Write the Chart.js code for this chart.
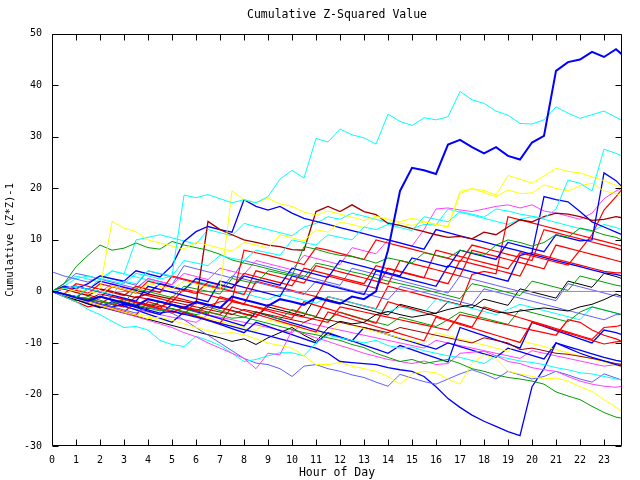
<!DOCTYPE html>
<html><head><meta charset="utf-8">
<script src="https://cdn.jsdelivr.net/npm/chart.js@4"></script>
<style>html,body{margin:0;padding:0;background:#fff}</style>
</head><body>
<canvas id="c" width="640" height="480"></canvas>
<script>
const hours = [0,0.5,1,1.5,2,2.5,3,3.5,4,4.5,5,5.5,6,6.5,7,7.5,8,8.5,9,9.5,10,10.5,11,11.5,12,12.5,13,13.5,14,14.5,15,15.5,16,16.5,17,17.5,18,18.5,19,19.5,20,20.5,21,21.5,22,22.5,23,23.5,23.75];
const xTickLabels = [0,1,2,3,4,5,6,7,8,9,10,11,12,13,14,15,16,17,18,19,20,21,22,23];
const yTickLabels = [-30,-20,-10,0,10,20,30,40,50];

const s01 = [0,-0.5,-1.2,-1.8,-1,-1.6,-2.2,-2.8, -1.5,-2,-2.6,-3.2,-2,-2.6,-3.2,-1, -1.6,-2.2,-2.8,-1.5,-2,-2.6,-1.2,-1.8, -2.4,-1,-1.5,0,8,19.5,24,23.5, 22.8,28.5,29.4,28,26.8,28,26.3,25.6, 28.9,30.2,42.8,44.5,45,46.5,45.5,47, 46];
const s02 = [0,0.5,1,0.4,2.5,2,1.5,3.5, 3,2.4,3,18.7,18.2,18.8,18,17.2, 17.8,17.2,18.4,21.8,23.5,22,29.7,29, 31.5,30.4,29.8,28.6,34.4,33,32.2,33.7, 33.3,33.9,38.8,37.2,36.5,35,34.2,32.6, 32.5,33.3,35.8,34.6,33.6,34.3,35,33.8, 33.2];
const s03 = [0,-0.5,-1,0.5,0,-0.6,2,1.5, 4,3.5,3,6,5.5,5,7,6.4, 6,8,7.5,7,10,9.5,9,11, 10.5,10,12.5,12,13,12.4,11.8,14.5, 14,13.5,15.5,15,14.4,16,15.6,15, 14.6,14.2,16,21.6,21,19.5,27.6,26.8, 26.3];
const s04 = [0,-0.5,0.5,0,-0.5,1,0.4,-0.2, 1.5,1,0.4,2,1.4,0.8,0.3,19.5, 17.8,17.2,18.1,17,16.5,15.4,14.8,15.6, 15,14.4,13.8,14.6,14,13.5,14.2,13.6, 13,12.6,19.4,19.9,19.6,18.7,22.5,21.8, 21,22.4,23.9,23.3,23,22.2,21.5,20.6, 20.3];
const s05 = [0,0.6,0,-0.5,0.5,13.6,12.3,11.6, 10,9.4,8.8,8.2,9.5,9,8.4,7.8, 9.5,9,8.4,11,10.4,9.8,12,11.5, 13.5,13,12.4,14.5,14,13.3,12.8,13.5, 13,12.5,19,20,19.2,18.4,19.7,19, 19.1,20.7,20,19.5,20.5,21,19.5,19, 18.5];
const s06 = [0,1.5,4.8,7,9,8,8.4,9.4, 8.5,8.2,9.7,9,8.5,8,7.2,6.1, 5.5,5,4.4,3.8,3.3,2.7,5.5,5, 4.4,3.8,3.3,2.6,2,1.5,1,0.4, -0.2,-0.8,-1.4,1.5,1,0.4,-0.2,-0.8, 2,1.4,0.8,0.2,3,2.4,1.8,1.2, 1];
const s07 = [0,-0.5,-1,-1.5,-1,-1.6,-2.2,0.5, 0,-0.6,-1.2,1,0.5,0,-0.5,2.5, 2,1.5,4,3.5,3,8.7,8.2,7.5, 7,6.8,6.2,5.5,6.5,6,5.5,7.5, 7,6.5,8,7.5,7,9,10,9.5, 8.8,9.5,11,10.5,12.3,11.8,11,10.5, 10];
const s08 = [0,-0.5,-1,-1.5,-2,-2.5,-2,-2.6, -3.2,-3.8,-3.3,-3.9,-4.5,-4,-4.6,-5.2, -5,-5.6,-6.2,-6.8,-7.4,-8,-8.4,-9, -9.5,-10.3,-10.9,-12,-12.8,-13.6,-13.2,-14, -13.6,-13.2,-14,-15,-15.5,-16.2,-16.7,-17, -17.4,-18,-19.5,-20.3,-21,-22.3,-23.5,-24.4, -24.6];
const s09 = [0,-0.7,-1.4,-2,-2.7,-3.3,-4,-4.6, -5.3,-5,-5.6,-6.3,-7,-7.6,-8.2,-8, -8.4,-9.2,-10,-10.5,-11,-12.5,-14.2,-14.2, -13.8,-14.5,-15,-15.5,-16.5,-18,-16,-15.5, -15.8,-17,-18,-14,-12.3,-13,-15.5,-16, -16.5,-17,-16.8,-17.4,-18.5,-19.4,-21,-22.5, -23.3];
const s10 = [0,-0.7,-1.4,-2.1,-2.8,-3.5,-4.2,-4.9, -5.6,-6.3,-7,-8,-8.8,-10,-11,-12, -13,-15,-12,-12.3,-7.5,-8.2,-9,-9.7, -10.5,-11.2,-12,-12.6,-13.2,-13.6,-14,-13.5, -14.2,-14,-12,-11.8,-11.6,-12.5,-13.6,-14, -14.8,-15.2,-15.5,-16.5,-17.4,-18,-18.4,-18.6, -18.4];
const s11 = [0,-1,-2,-3.5,-4.5,-5.8,-7,-6.8, -7.5,-9.5,-10.3,-10.7,-8.7,-9.5,-10.5,-12, -13.6,-13.2,-12.5,-11.9,-11.9,-12.5,-10,-8.5, -9,-9.5,-10,-9.5,-10.5,-11,-10.8,-11.5, -12,-12.5,-12.8,-13.4,-14,-12.5,-13,-13.5, -13.8,-14.2,-14.8,-15.2,-15.8,-16,-16.5,-17, -17.2];
const s12 = [0,-0.6,-1.2,-1.8,-2.4,-3,-3.6,-4.2, -3,-3.6,-4.2,-5.5,-7,-8.5,-10,-11.5, -13,-13.9,-14.2,-15,-16.5,-14.5,-14.2,-15, -15.5,-16.2,-16.7,-17.6,-18.4,-16.1,-16.8,-17.5, -18,-17,-16,-15.2,-16,-17,-15.5,-16.2, -17,-16.5,-15.5,-16.2,-17,-17.6,-16,-16.8, -17.2];
const s13 = [0,-0.6,-1.2,-1.8,-2.4,-3,-2.5,-3, -3.6,-4.2,-3.8,-4.4,-5,-5.6,-6.2,-6.8, -7.4,-8,-8.6,-9.2,-9.8,-10.4,-11,-12, -13.6,-13.8,-14,-14.2,-14.8,-15.2,-15.5,-16.5, -18.5,-20.8,-22.5,-24,-25.2,-26.2,-27.2,-28, -18.5,-15,-10,-11,-12,-12.8,-13.5,-14.2, -14.5];
const s14 = [0,0.5,1,0.4,2,1.4,0.8,0.2, -0.4,1.5,0.9,0.3,2.5,1.9,1.3,0.7, 3,2.4,1.8,1.2,4.5,3.9,3.3,2.7, 6,5.4,4.8,4.2,3.6,3,6.5,5.9, 5.3,4.7,8,7.4,6.8,6.2,9.5,8.9, 8.3,7.7,11,10.4,9.8,10,23,21.5, 20.3];
const s15 = [0,0.5,-0.2,-0.8,0.5,0,-0.6,-1.2, -0.5,-1,-1.5,-2,-2.4,13.6,12,11, 10,9.5,9,8.7,8.1,8,15.5,16.5, 15.5,16.8,15.5,14.9,13.2,12.8,12.2,11.6, 11,10.5,10.7,10.2,11.5,11,12.5,13.9, 13.5,14.5,15.2,15,14.5,13.8,14,14.5, 14.3];
const s16 = [0,-0.8,-1.6,-2.4,-3,-3.6,-4.2,-4.8, -5.4,-6,-6.6,-7.2,-7.8,-8.4,-9,-9.7, -9.2,-10.3,-9,-8,-7,-8.5,-9.7,-7.1, -5.8,-6.3,-6,-4.5,-3.9,-4.5,-5,-4.6, -4.2,-3.5,-3,-2.6,-3.3,-4,-4.2,-3.8, -3.5,-3.2,-3.5,-3.8,-3,-2.5,-1.6,-0.5, -1];
const s17 = [0,-0.5,1.5,1,0.4,-0.2,-0.8,1, 0.4,-0.2,3,2.4,1.8,1.2,0.6,0, -0.6,4,3.4,2.8,2.2,1.6,5,4.4, 3.8,3.2,2.6,2,1.4,6,5.4,4.8, 4.2,3.6,3,8,7.4,6.8,6.2,5.6, 5,4.4,9,8.4,7.8,7.2,6.6,6, 5.7];
const s18 = [0,-1,-2,-3,-2.5,-3.3,-4,-2, -2.8,-3.5,-4.2,-3,-3.7,-4.4,-1,-1.7, -2.4,-3.1,-3.8,-4.5,-5.2,-2,-2.7,-3.4, -4.1,-4.8,-5.5,-6.2,-2,-2.7,-3.4,-4.1, -4.8,-5.5,-6.2,-6.9,-3,-3.7,-4.4,-5.1, -5.8,-6.5,-7.2,-7.9,-8.6,-9.3,-7,-6.8, -6.5];
const s19 = [0,0.8,0.2,-0.4,1.5,0.9,0.3,-0.3, 2,1.4,0.8,0.2,-0.4,1.8,1.2,0.6, 3.5,2.9,2.3,1.7,1.1,4.5,3.9,3.3, 2.7,2.1,1.5,5,4.4,3.8,3.2,2.6, 8,7.4,6.8,6.2,5.6,5,4.4,7.5, 6.9,6.3,5.7,5.1,8,11,15.8,18.4, 19.8];
const s20 = [0,-0.6,-1.2,-1.8,-2.4,-1,-1.6,-2.2, -2.8,-3.4,-1,-1.6,-2.2,-2.8,-2,-1.7, 8,7.5,7,6.4,5.8,5.2,8.5,8, 7.4,6.8,6.2,10,9.4,8.8,8.2,7.6, 7,6.4,5.8,9,8.4,7.8,7.2,6.6, 6,12,11.4,10.8,10.2,9.6,9,8.4, 8];
const s21 = [0,-0.6,-1.2,-1.8,-2.5,-3.2,-3.9,-4.6, -2,-2.7,-3.4,-4.1,-4.8,-5.5,-6.2,-3, -3.7,-4.4,-5.1,-5.8,-6.5,-7.2,-7.9,-4, -4.7,-5.4,-6.1,-6.8,-7.5,-8.2,-8.9,-9.6, -5,-5.7,-6.4,-7.1,-7.8,-8.5,-9.2,-9.9, -6,-6.7,-7.4,-8.1,-8.8,-9.5,-10.2,-9.8, -9.7];
const s22 = [0,1,0.5,1.5,3,2.5,2,4, 3.4,2.8,5,9.7,11.6,12.6,12,11.5, 17.8,16.5,15.8,16.5,15.2,14.2,13.6,13, 12.4,11.8,11.2,10.6,10,9.4,8.8,8.2, 12,11.4,10.8,10.2,9.6,9,8.4,7.8, 7.2,6.6,6,5.4,4.8,4.2,3.6,3.3, 3];
const s23 = [0,-0.6,-1.2,0.5,-0.1,-0.7,-1.3,-1.9, 1,0.4,-0.2,-0.8,-1.4,-2,2,1.4, 0.8,0.2,-0.4,-1,3,2.4,1.8,1.2, 0.6,0,-0.6,4,3.4,2.8,2.2,1.6, 1,5,4.4,3.8,3.2,2.6,2,7, 7.5,18.4,17.8,17.4,15.5,13.5,12.5,11.5, 11];
const s24 = [0,0.5,1,0.4,-0.2,1.5,0.9,0.3, 2.5,1.9,1.3,3.5,2.9,2.3,4.5,3.9, 3.3,6,5.4,4.8,4.2,7,6.4,5.8, 5.2,8.5,7.9,7.3,10,9.4,8.8,12, 16,16.2,15.8,15.5,16,16.5,16.8,16.2, 16.8,15.6,15.2,14.6,14,15.2,18,19.5, 20];
const s25 = [0,-0.5,0.5,-0.3,0.4,-0.2,0,0, 0,0,0,0,0,0,0,0, 0,0,0,0,0,0,0,0, 0,0,0,0,0,0,0,0, 0,0,0,0,0,0,0,0, 0,0,0,0,0,0,0,0, 0];
const s26 = [0,-0.5,-1,-1.5,-0.5,-1,-1.5,-2, -2.5,-3,-2,-2.5,-3,-3.5,-4,-4.5, -3.5,-4,-4.5,-5,-5.5,-6,-5,-5.5, -6,-6.5,-7,-7.5,-8,-7,-7.5,-8, -8.5,-9,-9.5,-10,-9,-9.5,-10,-11.3, -11,-11.5,-12,-12.2,-12.6,-13,-13.5,-14, -14.2];
const s27 = [0,-1,-1.8,-1,-1.7,-2.4,-1.5,-2.2, -2.9,-2,-2.7,-3.4,-4,-3,-3.7,-4.4, -5,-4,-4.7,-5.4,-3.5,-4.2,-4.9,-5.6, -4,-4.7,-5.4,-6,-6.6,-5,-5.6,-6.2, -6.8,-5.5,-4,-4.6,-5.2,-5.8,-6.4,-3.5, -4.1,-4.7,-5.3,-5.9,-4,-3,-3.6,-4.2, -4.5];
const s28 = [0,-0.8,-1.6,-2.4,-3.2,-2,-2.8,-3.6, -4.4,-5.2,-6,-4,-4.8,-5.6,-6.4,-7.2, -8,-6,-6.8,-7.6,-8.4,-9.2,-10,-8, -8.8,-9.6,-10.4,-11.2,-12,-10.5,-11.3,-12.1, -12.9,-13.7,-7,-7.8,-8.6,-9.4,-10.2,-11, -6,-6.8,-7.6,-8.4,-9.2,-10,-7.5,-8, -8.4];
const s29 = [3.8,3,2.4,1.8,3,2.4,1.8,1.2, 4,3.4,2.8,2.2,1.6,1,0.4,3, 2.4,1.8,1.2,0.6,0,-0.6,2,1.4, 0.8,0.2,-0.4,-1,-1.6,1,0.4,-0.2, -0.8,-1.4,-2,-2.6,0.5,-0.1,-0.7,-1.3, -1.9,-2.5,-3.1,-3.7,-4.3,-4.9,-5.5,-4.5, -4.5];
const s30 = [0,1,2.5,3,2.4,4,3.4,2.8, 2.2,1.6,1,0.4,2,1.4,0.8,0.2, -0.4,-1,-1.6,-0.5,-1.1,-1.7,-2.3,-1, -1.6,-2.2,-2.8,-3.4,-4,-3,-3.6,-4.2, -1.5,-2.1,-2.7,-3.3,-3.9,-4.5,-3.5,-2.5, -3.1,-3.7,-4.3,-4.9,-5.5,-3,-3.6,-4.2, -4.5];
const s31 = [0,-0.6,-1.2,-1.8,-2.4,-3,-3.6,-4.2, -4.8,-5.4,-6,-4,-4.6,-5.2,-5.8,-6.4, -7,-7.6,-5.5,-6.1,-6.7,-7.3,-7.9,-8.5, -6,-6.6,-7.2,-7.8,-8.4,-9,-9.6,-10.2, -8,-8.6,-9.2,-9.8,-10.4,-11,-11.6,-9.5, -10.1,-10.7,-11.3,-11.9,-12.5,-13.1,-13.7,-14.3, -14.8];
const s32 = [0,-0.6,-1.2,-1.8,-2.4,-3,-1.5,-2.1, -2.7,-3.3,-3.9,-4.5,-2,-2.6,-3.2,-3.8, -4.4,-5,-2.5,-3.1,-3.7,-4.3,-4.9,-1, -1.6,-2.2,-2.8,-3.4,1,0.4,-0.2,-0.8, -1.4,-2,-2.6,3.3,3.9,3.4,14.5,13.9, 13.3,12.7,12.1,11.5,10.9,10.3,9.7,9.1, 8.8];
const s33 = [0,-0.7,-1.4,-2.1,-1,-1.7,-2.4,-3.1, -3.8,-4.5,-2.5,-3.2,-3.9,-4.6,-5.3,-6, -6.7,-4,-4.7,-5.4,-6.1,-6.8,-7.5,-8.2, -8.9,-9.6,-7,-7.7,-8.4,-9.1,-9.8,-10.5, -11.2,-10,-10.7,-11.4,-12.1,-12.8,-11,-11.7, -12.4,-13.1,-10,-10.7,-11.4,-12.1,-12.8,-13.4, -13.6];
const s34 = [0,-0.5,-1,-1.5,-2,-2.5,-3,-1, -1.5,-2,-2.5,-3,-3.5,-4,-4.5,-2, -2.5,-3,-3.5,-4,-4.5,-5,-5.5,-6, -3,-3.5,-4,-4.5,-5,-5.5,-6,-6.5, -7,-7.5,-4.5,-5,-5.5,-6,-6.5,-7, -7.5,-8,-8.5,-5.5,-6,-7.5,-8.5,-9.2, -9.7];
const s35 = [0,-0.6,-1.2,-1.8,-1,-1.6,-2.2,-2.8, -3.4,-2,-2.6,-3.2,-3.8,-2.5,-3.1,-3.7, -4.3,-4.9,-3,-3.6,-4.2,-4.8,-1,-1.6, -2.2,-2.8,-3.4,-4,-4.6,-2.5,-3.1,-3.7, -4.3,-2,-2.6,-3.2,-1.5,-2.1,-2.7,0.5, -0.1,-0.7,-1.3,2,1.4,0.8,3.5,2.9, 2.5];
const s36 = [0,1.5,3.5,3,2.4,1.8,1.2,0.6, 2.5,1.9,1.3,5,4.4,3.8,3.2,2.6, 6,5.4,4.8,4.2,3.6,3,2.4,1.8, 1.2,4.5,3.9,3.3,2.7,2.1,1.5,0.9, 0.3,-0.3,3,2.4,1.8,1.2,0.6,0, -0.6,-1.2,-1.8,1.5,0.9,0.3,-0.3,-0.9, -1.2];
const s37 = [0,-0.5,-1,-1.5,-2,-2.5,-3,-3.5, -4,-4.5,-5,-5.5,-6,-4.5,-5,-5.5, -6,-6.5,-7,-7.5,-8,-6,-6.5,-7, -7.5,-8,-8.5,-9,-9.5,-10,-10.5,-11, -9.5,-10,-10.5,-11,-11.5,-12,-12.5,-13, -11.5,-12,-12.5,-13,-13.5,-14,-14.5,-14.2, -14];
const s38 = [0,0.5,-0.1,-0.7,-1.3,1,0.4,-0.2, -0.8,-1.4,-2,0.5,-0.1,-0.7,-1.3,-1.9, -2.5,2,1.4,0.8,0.2,-0.4,-1,3, 2.4,1.8,1.2,0.6,4.5,3.9,3.3,2.7, 2.1,1.5,6,5.4,4.8,4.2,3.6,3, 7.5,6.9,6.3,5.7,5.1,4.5,3.9,3.6, 3.6];
const s39 = [0,1.5,3,2.4,1.8,4,3.4,10, 10.5,11,10.4,9.8,9.2,12,11.4,10.8, 13.2,12.6,12,11.4,10.8,12.5,13.2,14.5, 14,15.2,14.6,14,13.4,12.8,12.2,13, 12.9,16,15.4,14.8,14.2,13.6,13,14, 14.5,14,13.4,12.8,12.2,11.6,13,12.4, 12];

const BLUE='#0000ff', CYAN='#00ffff', YELLOW='#ffff00', GREEN='#00a000', MAGENTA='#ff40ff', LAV='#6060ff', DRED='#a00000', RED='#ff0000', BLACK='#000000';
const seriesList = [
  [s01,BLUE,2],[s02,CYAN,1],[s03,CYAN,1],[s04,YELLOW,1],[s05,YELLOW,1],[s06,GREEN,1],[s07,GREEN,1],[s08,GREEN,1],
  [s09,YELLOW,1],[s10,MAGENTA,1],[s11,CYAN,1],[s12,LAV,1],[s13,BLUE,1.3],[s14,BLUE,1.3],[s15,DRED,1.3],[s16,BLACK,1],
  [s17,RED,1.2],[s18,RED,1.2],[s19,RED,1.2],[s20,RED,1.2],[s21,RED,1.2],[s22,BLUE,1.3],[s23,BLUE,1.3],[s24,MAGENTA,1],
  [s25,MAGENTA,1],[s26,DRED,1],[s27,GREEN,1],[s28,BLUE,1.3],[s29,LAV,1],[s30,CYAN,1],[s31,YELLOW,1],[s32,RED,1.2],
  [s33,BLUE,1.3],[s34,RED,1.2],[s35,BLACK,1],[s36,LAV,1],[s37,MAGENTA,1],[s38,RED,1.2],[s39,CYAN,1]
];

const FONT = '"DejaVu Sans Mono", "Liberation Mono", monospace';

const datasets = seriesList.map(([vals,color,w],i)=>({
  label: 'S'+(i+1),
  data: hours.map((h,k)=>({x:h,y:vals[k]})),
  borderColor: color, backgroundColor: color, borderWidth: w,
  pointRadius: 0, tension: 0, fill: false
}));

const framePlugin = {
  id:'frame',
  afterDraw(chart){
    const {ctx, chartArea:a, scales:{x,y}} = chart;
    ctx.save();
    ctx.strokeStyle='#000'; ctx.lineWidth=1;
    const L=Math.round(a.left)+0.5, R=Math.round(a.right)-0.5, T=Math.round(a.top)+0.5, B=Math.round(a.bottom)-0.5;
    ctx.beginPath();
    ctx.rect(L,T,R-L,B-T);
    xTickLabels.forEach(v=>{const p=Math.round(x.getPixelForValue(v))+0.5; ctx.moveTo(p,B); ctx.lineTo(p,B-6); ctx.moveTo(p,T); ctx.lineTo(p,T+6);});
    yTickLabels.forEach(v=>{const p=Math.round(y.getPixelForValue(v))+0.5; ctx.moveTo(L,p); ctx.lineTo(L+6,p); ctx.moveTo(R,p); ctx.lineTo(R-6,p);});
    ctx.stroke();
    ctx.restore();
  }
};

new Chart(document.getElementById('c'), {
  type:'line',
  data:{datasets},
  options:{
    responsive:false, animation:false, devicePixelRatio:1,
    layout:{padding:{left:0,right:18,top:0,bottom:0}},
    plugins:{
      legend:{display:false}, tooltip:{enabled:false},
      title:{display:true, text:'Cumulative Z-Squared Value', fullSize:false, color:'#000',
        font:{family:FONT,size:11.5,weight:'normal',lineHeight:1.2}, padding:{top:8,bottom:12}}
    },
    scales:{
      x:{type:'linear', min:0, max:23.75,
        grid:{display:false, drawTicks:false}, border:{display:false},
        afterBuildTicks:s=>{s.ticks = xTickLabels.map(v=>({value:v}));},
        afterFit:s=>{s.height=34;},
        ticks:{color:'#000', font:{family:FONT,size:10}, padding:8, maxRotation:0, autoSkip:false, callback:v=>String(v)},
        title:{display:true, text:'Hour of Day', color:'#000', font:{family:FONT,size:11.5,lineHeight:1.2}, padding:{top:0,bottom:0}}
      },
      y:{type:'linear', min:-30, max:50,
        grid:{display:false, drawTicks:false}, border:{display:false},
        afterBuildTicks:s=>{s.ticks = yTickLabels.map(v=>({value:v}));},
        afterFit:s=>{s.width=52;},
        ticks:{color:'#000', font:{family:FONT,size:10}, padding:10, autoSkip:false, callback:v=>String(v)},
        title:{display:true, text:'Cumulative (Z*Z)-1', color:'#000', font:{family:FONT,size:10.5,lineHeight:1.2}, padding:{top:4,bottom:0}}
      }
    }
  },
  plugins:[framePlugin]
});
</script>
</body></html>
